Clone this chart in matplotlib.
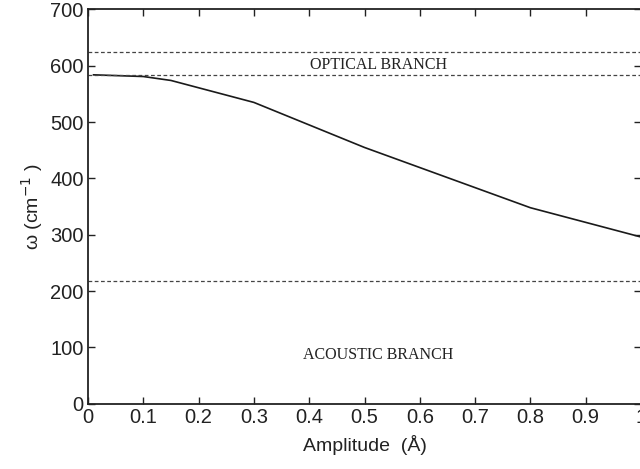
import matplotlib
matplotlib.use("Agg")
import matplotlib.pyplot as plt

# phonon frequency vs amplitude
amplitude = [0.01, 0.1, 0.15, 0.3, 0.5, 0.8, 1.0]
omega = [584, 581, 574, 535, 455, 348, 296]

# branch edges (dashed lines)
optical_top = 624
optical_bottom = 584
acoustic_top = 218

plt.rcParams["font.family"] = ["Liberation Sans", "DejaVu Sans"]

fig = plt.figure(figsize=(6.4, 4.69), dpi=100)
ax = fig.add_axes([88 / 640, 65.3 / 469, 553 / 640, 394.2 / 469])

ax.plot(amplitude, omega, color="#1a1a1a", lw=1.2)
for level in [optical_top, optical_bottom, acoustic_top]:
    ax.axhline(level, color="#444444", lw=0.9, ls=(0, (3, 2)))

ax.text(0.525, 602, "OPTICAL BRANCH", family="Liberation Serif", fontsize=11.5,
        ha="center", va="center", color="#222222")
ax.text(0.525, 87, "ACOUSTIC BRANCH", family="Liberation Serif", fontsize=11.5,
        ha="center", va="center", color="#222222")

ax.set_xlim(0, 1)
ax.set_ylim(0, 700)
ax.set_xticks([0, 0.1, 0.2, 0.3, 0.4, 0.5, 0.6, 0.7, 0.8, 0.9, 1.0])
ax.set_xticklabels(["0", "0.1", "0.2", "0.3", "0.4", "0.5", "0.6", "0.7", "0.8", "0.9", "1"])
ax.set_yticks(range(0, 701, 100))
ax.tick_params(direction="in", top=True, right=True, labelsize=14.5, length=5,
               width=1, pad=3, colors="#222222")
for s in ax.spines.values():
    s.set_linewidth(1.3)
    s.set_color("#222222")

ax.set_xlabel("Amplitude  (Å)", fontsize=14, color="#222222", labelpad=6)
ax.set_ylabel(r"ω (cm$^{-1}$ )", fontsize=14, color="#222222", labelpad=4)

fig.savefig("out.png", dpi=100)
